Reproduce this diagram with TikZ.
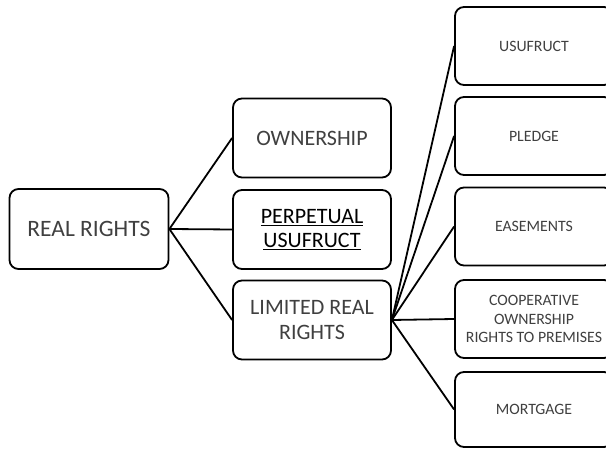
\documentclass[tikz,border=0pt]{standalone}
\usepackage{fontspec}
\setmainfont{Carlito}
\begin{document}
\begin{tikzpicture}[x=1pt,y=-1pt,
  box/.style={draw=black,line width=1.8pt,rounded corners=9pt,fill=white,inner sep=0pt,align=center,text=textgray},
  big/.style={box,minimum width=158pt,minimum height=79pt,font=\fontsize{22}{24.5}\selectfont},
  small/.style={box,minimum width=158pt,minimum height=78pt,font=\fontsize{15.8}{18.3}\selectfont},
  link/.style={line width=1.8pt}]
\definecolor{textgray}{HTML}{404040}
\useasboundingbox (0,0) rectangle (606,449);
\clip (0,0) rectangle (606,449);
\node[big,minimum width=159pt,minimum height=80pt,font=\fontsize{23.5}{26}\selectfont] (rr) at (89,229) {REAL RIGHTS};
\node[big] (own) at (312,138) {OWNERSHIP};
\node[big,text=black] (perp) at (312,229.5) {\underline{PERPETUAL}\\\underline{USUFRUCT}};
\node[big] (lim) at (312,320) {LIMITED REAL\\RIGHTS};
\node[small] (us) at (534,46) {USUFRUCT};
\node[small] (pl) at (534,136) {PLEDGE};
\node[small] (ea) at (534,226.5) {EASEMENTS};
\node[small] (co) at (534,319) {COOPERATIVE\\OWNERSHIP\\RIGHTS TO PREMISES};
\node[small,minimum height=75pt] (mo) at (534,409.5) {MORTGAGE};
\draw[link] (rr.east) -- (own.west);
\draw[link] (rr.east) -- (perp.west);
\draw[link] (rr.east) -- (lim.west);
\draw[link] (lim.east) -- (us.west);
\draw[link] (lim.east) -- (pl.west);
\draw[link] (lim.east) -- (ea.west);
\draw[link] (lim.east) -- (co.west);
\draw[link] (lim.east) -- (mo.west);
\end{tikzpicture}
\end{document}
